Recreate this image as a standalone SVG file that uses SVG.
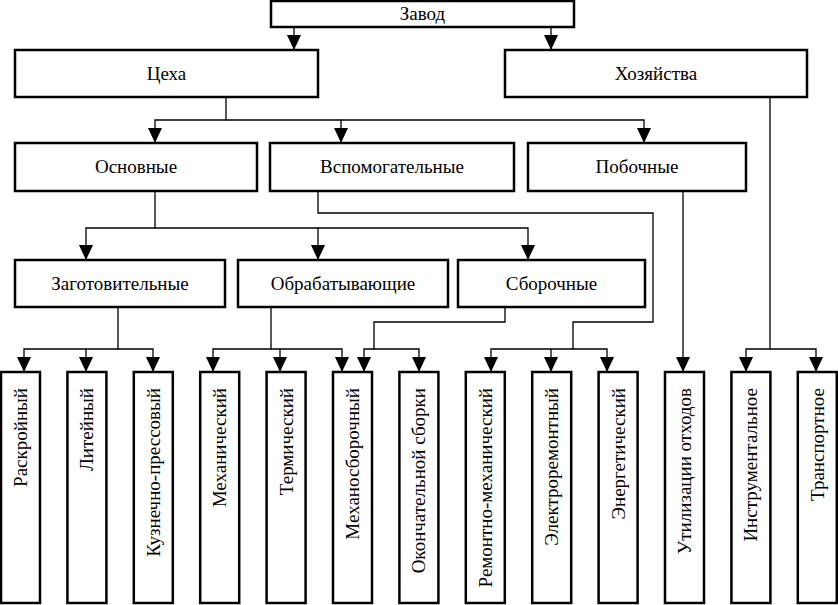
<svg xmlns="http://www.w3.org/2000/svg" width="838" height="605" viewBox="0 0 838 605">
<style>
.box{fill:#fff;stroke:#000;stroke-width:2.5}
.t{font-family:"Liberation Serif","Times New Roman",serif;font-size:19px;fill:#000;text-anchor:middle}
.v{font-family:"Liberation Serif","Times New Roman",serif;font-size:19px;fill:#000;text-anchor:end}
.c{fill:none;stroke:#000;stroke-width:1.3;marker-end:url(#arr)}
.l{fill:none;stroke:#000;stroke-width:1.3}
</style>
<defs>
<marker id="arr" viewBox="0 0 15 14" refX="15" refY="7" markerWidth="15" markerHeight="14" markerUnits="userSpaceOnUse" orient="auto">
<path d="M0,0 L15,7 L0,14 z" fill="#000"/>
</marker>
</defs>
<rect width="838" height="605" fill="#fff"/>
<g id="connectors">
<path class="c" d="M294,27 V50"/>
<path class="c" d="M551,27 V50"/>
<path class="c" d="M226,97 V120 H155 V143"/>
<path class="c" d="M226,120 H341 V143"/>
<path class="c" d="M341,120 H644 V143"/>
<path class="c" d="M770,97 V349 H746 V372"/>
<path class="c" d="M770,349 H816 V372"/>
<path class="c" d="M683,191 V372"/>
<path class="c" d="M318,191 V213 H653 V322 H573 V349 H491 V372"/>
<path class="c" d="M573,349 H607 V372"/>
<path class="c" d="M551,349 V372"/>
<path class="c" d="M155,191 V228 H86 V260"/>
<path class="c" d="M155,228 H318 V260"/>
<path class="c" d="M318,228 H528 V260"/>
<path class="c" d="M118,307 V349 H24 V372"/>
<path class="c" d="M118,349 H153 V372"/>
<path class="c" d="M86,349 V372"/>
<path class="c" d="M271,307 V349 H213 V372"/>
<path class="c" d="M271,349 H342 V372"/>
<path class="c" d="M280,349 V372"/>
<path class="c" d="M505,307 V322 H374 V349 H364 V372"/>
<path class="c" d="M374,349 H419 V372"/>
</g>
<g id="zavod"><rect class="box" x="271" y="1" width="303" height="26"/><text class="t" x="422.5" y="20">Завод</text></g>
<g id="tseha"><rect class="box" x="15" y="50" width="303" height="47"/><text class="t" x="166.5" y="80">Цеха</text></g>
<g id="hozyaystva"><rect class="box" x="505" y="50" width="302" height="47"/><text class="t" x="656" y="80">Хозяйства</text></g>
<g id="osnovnye"><rect class="box" x="15" y="143" width="242" height="48"/><text class="t" x="136" y="173">Основные</text></g>
<g id="vspomogatelnye"><rect class="box" x="270" y="143" width="244" height="48"/><text class="t" x="392" y="173">Вспомогательные</text></g>
<g id="pobochnye"><rect class="box" x="528" y="143" width="218" height="48"/><text class="t" x="637" y="173">Побочные</text></g>
<g id="zagotovitelnye"><rect class="box" x="15" y="260" width="210" height="47"/><text class="t" x="120" y="290">Заготовительные</text></g>
<g id="obrabatyvayushchie"><rect class="box" x="238" y="260" width="210" height="47"/><text class="t" x="343" y="290">Обрабатывающие</text></g>
<g id="sborochnye"><rect class="box" x="458" y="260" width="187" height="47"/><text class="t" x="551.5" y="290">Сборочные</text></g>
<g id="raskroyny"><rect class="box" x="1" y="372" width="39" height="231"/><text class="v" transform="translate(27,388) rotate(-90)">Раскройный</text></g>
<g id="liteyny"><rect class="box" x="67.4" y="372" width="39" height="231"/><text class="v" transform="translate(93.4,388) rotate(-90)">Литейный</text></g>
<g id="kuznechno"><rect class="box" x="133.8" y="372" width="39" height="231"/><text class="v" transform="translate(159.8,388) rotate(-90)">Кузнечно-прессовый</text></g>
<g id="mekhanichesky"><rect class="box" x="200.2" y="372" width="39" height="231"/><text class="v" transform="translate(226.2,388) rotate(-90)">Механический</text></g>
<g id="termichesky"><rect class="box" x="266.6" y="372" width="39" height="231"/><text class="v" transform="translate(292.6,388) rotate(-90)">Термический</text></g>
<g id="mekhanosborochny"><rect class="box" x="333" y="372" width="39" height="231"/><text class="v" transform="translate(359,388) rotate(-90)">Механосборочный</text></g>
<g id="okonchatelnoy"><rect class="box" x="399.4" y="372" width="39" height="231"/><text class="v" transform="translate(425.4,388) rotate(-90)">Окончательной сборки</text></g>
<g id="remontno"><rect class="box" x="465.8" y="372" width="39" height="231"/><text class="v" transform="translate(491.8,388) rotate(-90)">Ремонтно-механический</text></g>
<g id="elektroremontny"><rect class="box" x="532.2" y="372" width="39" height="231"/><text class="v" transform="translate(558.2,388) rotate(-90)">Электроремонтный</text></g>
<g id="energetichesky"><rect class="box" x="598.6" y="372" width="39" height="231"/><text class="v" transform="translate(624.6,388) rotate(-90)">Энергетический</text></g>
<g id="utilizatsii"><rect class="box" x="665" y="372" width="39" height="231"/><text class="v" transform="translate(691,388) rotate(-90)">Утилизации отходов</text></g>
<g id="instrumentalnoe"><rect class="box" x="731.4" y="372" width="39" height="231"/><text class="v" transform="translate(757.4,388) rotate(-90)">Инструментальное</text></g>
<g id="transportnoe"><rect class="box" x="797.8" y="372" width="39" height="231"/><text class="v" transform="translate(823.8,388) rotate(-90)">Транспортное</text></g>
</svg>
